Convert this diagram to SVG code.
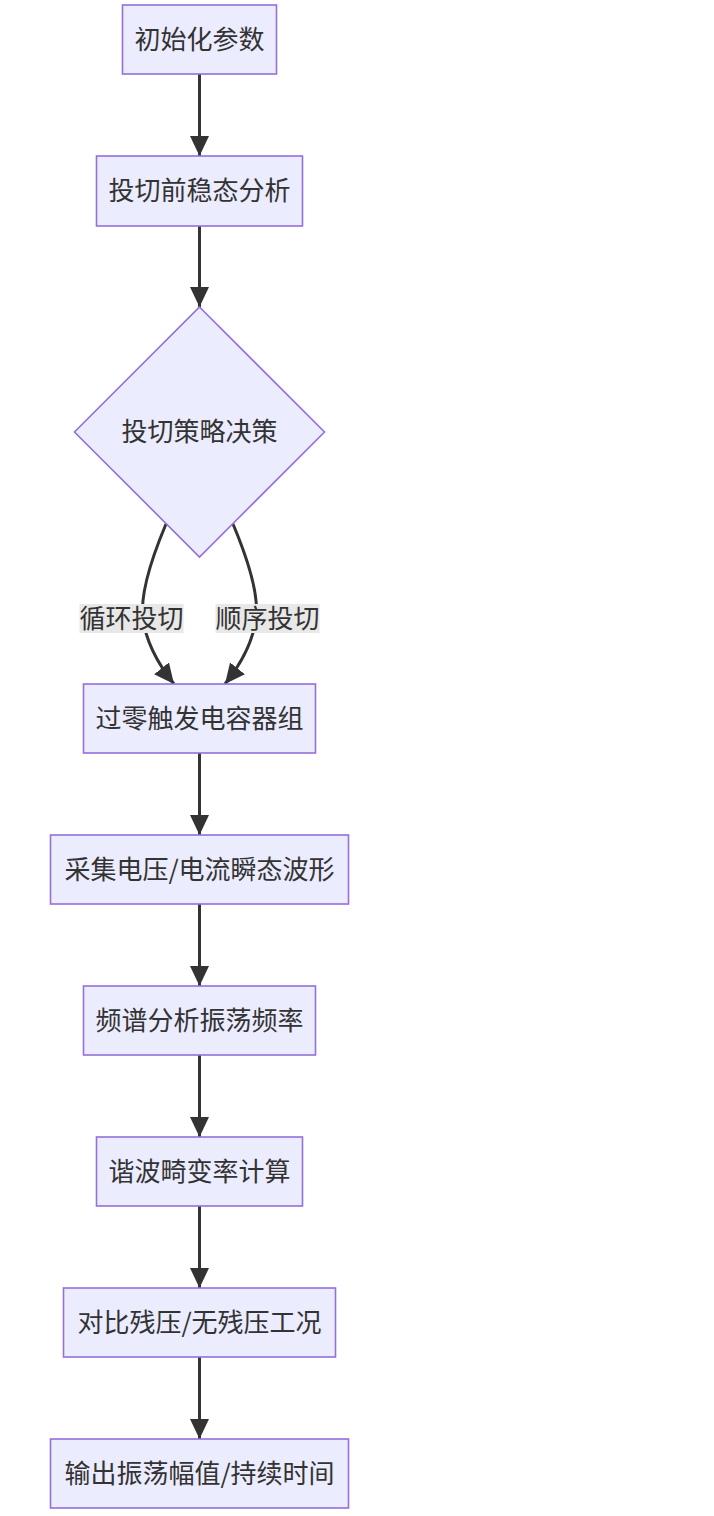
<svg xmlns="http://www.w3.org/2000/svg" width="714" height="1516" viewBox="0 0 714 1516">
<style>
.node rect, .node polygon { fill: #ECECFF; stroke: #9370DB; stroke-width: 1.6; }
.node text, .label text { font-family: "Noto Sans CJK SC", "Noto Sans", sans-serif; font-size: 26px; fill: #333333; text-anchor: middle; dominant-baseline: central; }
.edge { fill: none; stroke: #333333; stroke-width: 3; marker-end: url(#arrow); }
.label rect { fill: #e8e8e8; }
</style>
<defs>
<marker id="arrow" viewBox="0 0 20 19" refX="20" refY="9.5" markerWidth="20" markerHeight="19" markerUnits="userSpaceOnUse" orient="auto">
<path d="M0,0 L20,9.5 L0,19 z" fill="#333333"/>
</marker>
</defs>
<rect width="714" height="1516" fill="#ffffff"/>
<g id="connectors">
<path class="edge" d="M199.5,74 L199.5,156"/>
<path class="edge" d="M199.5,226 L199.5,307"/>
<path class="edge" d="M166,524 C150,562 140,595 143,618 C146,643 158,664 174,684"/>
<path class="edge" d="M233,524 C249,562 259,595 256,618 C253,643 241,664 225,684"/>
<path class="edge" d="M199.5,753 L199.5,835"/>
<path class="edge" d="M199.5,904 L199.5,986"/>
<path class="edge" d="M199.5,1055 L199.5,1137"/>
<path class="edge" d="M199.5,1206 L199.5,1288"/>
<path class="edge" d="M199.5,1357 L199.5,1439"/>
</g>
<g id="edge-labels">
<g class="label" id="label-loop"><rect x="79.5" y="604" width="104" height="29"/><text x="131.5" y="616">循环投切</text></g>
<g class="label" id="label-seq"><rect x="215.5" y="604" width="104" height="29"/><text x="267.5" y="616">顺序投切</text></g>
</g>
<g class="node" id="n1"><rect x="122.5" y="5" width="154" height="69"/><text x="199.5" y="37">初始化参数</text></g>
<g class="node" id="n2"><rect x="96.5" y="156" width="206" height="70"/><text x="199.5" y="188.5">投切前稳态分析</text></g>
<g class="node" id="n3"><polygon points="199.5,307 324.5,432 199.5,557 74.5,432"/><text x="199.5" y="429.5">投切策略决策</text></g>
<g class="node" id="n4"><rect x="83.5" y="684" width="232" height="69"/><text x="199.5" y="716">过零触发电容器组</text></g>
<g class="node" id="n5"><rect x="50.5" y="835" width="298" height="69"/><text x="199.5" y="867">采集电压/电流瞬态波形</text></g>
<g class="node" id="n6"><rect x="83.5" y="986" width="232" height="69"/><text x="199.5" y="1018">频谱分析振荡频率</text></g>
<g class="node" id="n7"><rect x="96.5" y="1137" width="206" height="69"/><text x="199.5" y="1169">谐波畸变率计算</text></g>
<g class="node" id="n8"><rect x="63.5" y="1288" width="272" height="69"/><text x="199.5" y="1320">对比残压/无残压工况</text></g>
<g class="node" id="n9"><rect x="50.5" y="1439" width="298" height="69"/><text x="199.5" y="1471">输出振荡幅值/持续时间</text></g>
</svg>
